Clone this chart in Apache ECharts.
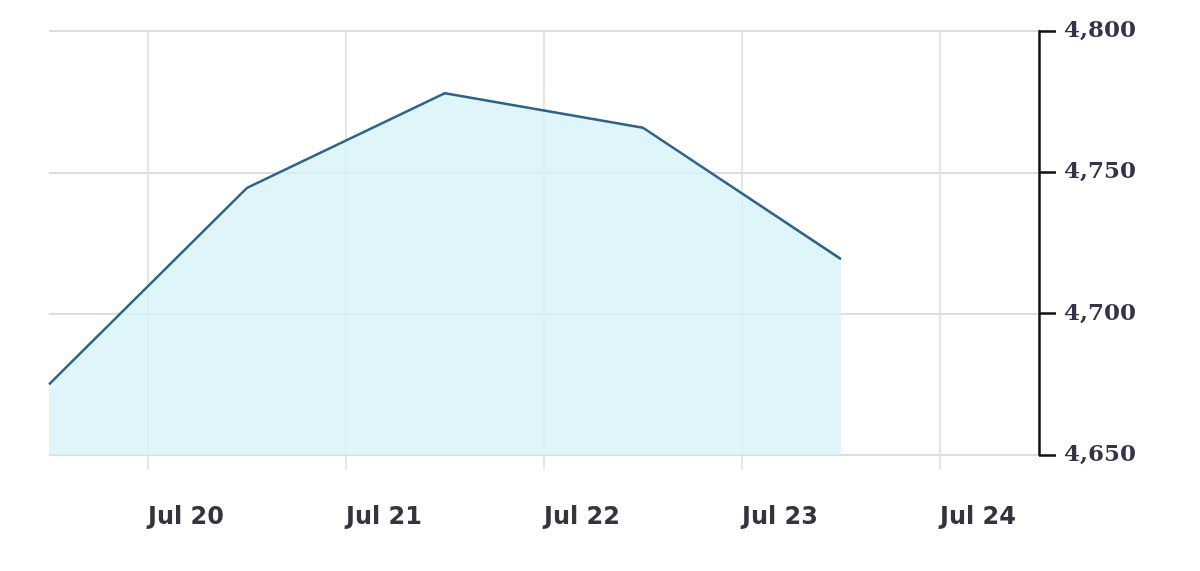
<!DOCTYPE html>
<html>
<head>
<meta charset="utf-8">
<script src="https://cdn.jsdelivr.net/npm/echarts@6/dist/echarts.min.js"></script>
<style>
html,body{margin:0;padding:0;background:#fff;}
#chart{width:1200px;height:571px;}
</style>
</head>
<body>
<div id="chart"></div>
<script>
// Data (dates at noon UTC each day)
var dates = ['2024-07-19T12:00:00Z','2024-07-20T12:00:00Z','2024-07-21T12:00:00Z','2024-07-22T12:00:00Z','2024-07-23T12:00:00Z'];
var values = [4675, 4744.5, 4778, 4765.8, 4719.3];
var yTicks = [4650, 4700, 4750, 4800];
var monthNames = ['Jan','Feb','Mar','Apr','May','Jun','Jul','Aug','Sep','Oct','Nov','Dec'];

var seriesData = dates.map(function(d, i){ return [Date.parse(d), values[i]]; });

var chart = echarts.init(document.getElementById('chart'), null, {renderer:'canvas'});
chart.setOption({
  animation: false,
  useUTC: true,
  backgroundColor: '#ffffff',
  grid: {left: 49, right: 161, top: 31, bottom: 116, containLabel: false},
  xAxis: {
    type: 'time',
    min: Date.parse('2024-07-19T12:00:00Z'),
    max: Date.parse('2024-07-24T12:00:00Z'),
    interval: 86400000,
    minInterval: 86400000,
    maxInterval: 86400000,
    axisLine: {show: false},
    axisTick: {show: true, length: 15, lineStyle: {color: '#dddddd', width: 1.5}},
    splitLine: {show: true, showMinLine: false, showMaxLine: false, lineStyle: {color: '#dddddd', width: 1.5}},
    axisLabel: {
      margin: 51,
      align: 'left',
      fontFamily: 'DejaVu Sans',
      fontWeight: 'bold',
      fontSize: 24,
      color: '#34343f',
      formatter: function(v){
        var d = new Date(v);
        return monthNames[d.getUTCMonth()] + ' ' + d.getUTCDate();
      },
      showMinLabel: false,
      showMaxLabel: false
    }
  },
  yAxis: {
    type: 'value',
    position: 'right',
    min: 4650,
    max: 4800,
    interval: 50,
    axisLine: {show: true, lineStyle: {color: '#111111', width: 2.5}},
    axisTick: {show: true, inside: false, length: 17, lineStyle: {color: '#111111', width: 2.5}},
    splitLine: {show: true, lineStyle: {color: '#dddddd', width: 2}},
    axisLabel: {
      margin: 25,
      fontFamily: 'DejaVu Serif',
      fontWeight: 'bold',
      fontSize: 23,
      color: '#33334a',
      formatter: function(v){ return echarts.format.addCommas(v); }
    }
  },
  series: [{
    type: 'line',
    data: seriesData,
    symbol: 'none',
    lineStyle: {color: '#2f6489', width: 2.5},
    areaStyle: {color: '#d8f3f9', opacity: 0.8, origin: 'start'},
    z: 3
  }]
});
</script>
</body>
</html>
